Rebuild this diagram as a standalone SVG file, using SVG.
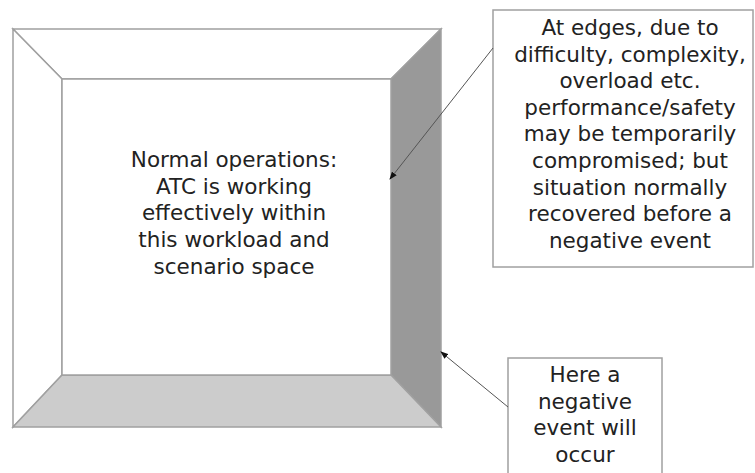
<svg xmlns="http://www.w3.org/2000/svg" width="755" height="473" viewBox="0 0 755 473">
<style>
.edge{stroke:#a0a0a0;stroke-width:1.5}
.box{fill:#fff;stroke:#a0a0a0;stroke-width:1.5}
.t{font-family:"DejaVu Sans","Liberation Sans",sans-serif;font-size:21.5px;fill:#222;text-anchor:middle}
.conn{stroke:#555;stroke-width:1;fill:none;marker-end:url(#ah)}
</style>
<defs>
<marker id="ah" markerWidth="8" markerHeight="6" refX="7" refY="3" orient="auto" markerUnits="userSpaceOnUse">
<path d="M0,0 L8,3 L0,6 Z" fill="#111"/>
</marker>
</defs>
<rect width="755" height="473" fill="#fff"/>
<g id="frame">
<polygon points="13,29 441,29 391,79 62,79" fill="#fff" class="edge"/>
<polygon points="13,29 62,79 62,375 13,427" fill="#fff" class="edge"/>
<polygon points="441,29 441,427 391,375 391,79" fill="#999" class="edge"/>
<polygon points="13,427 62,375 391,375 441,427" fill="#ccc" class="edge"/>
<rect x="62" y="79" width="329" height="296" fill="#fff" class="edge"/>
<text class="t" x="234"><tspan x="234" y="167">Normal operations:</tspan><tspan x="234" y="193.7">ATC is working</tspan><tspan x="234" y="220.3">effectively within</tspan><tspan x="234" y="247">this workload and</tspan><tspan x="234" y="273.7">scenario space</tspan></text>
</g>
<g id="edges-note">
<rect class="box" x="493" y="10" width="260" height="257"/>
<text class="t"><tspan x="630" y="35">At edges, due to</tspan><tspan x="630" y="61.6">difficulty, complexity,</tspan><tspan x="630" y="88.2">overload etc.</tspan><tspan x="630" y="114.8">performance/safety</tspan><tspan x="630" y="141.4">may be temporarily</tspan><tspan x="630" y="168">compromised; but</tspan><tspan x="630" y="194.6">situation normally</tspan><tspan x="630" y="221.2">recovered before a</tspan><tspan x="630" y="247.8">negative event</tspan></text>
</g>
<g id="event-note">
<rect class="box" x="508" y="358" width="154" height="130"/>
<text class="t"><tspan x="585" y="382">Here a</tspan><tspan x="585" y="408.5">negative</tspan><tspan x="585" y="435">event will</tspan><tspan x="585" y="461.5">occur</tspan></text>
</g>
<g id="connectors">
<line class="conn" x1="493" y1="48" x2="390" y2="179"/>
<line class="conn" x1="508" y1="407" x2="441" y2="352"/>
</g>
</svg>
